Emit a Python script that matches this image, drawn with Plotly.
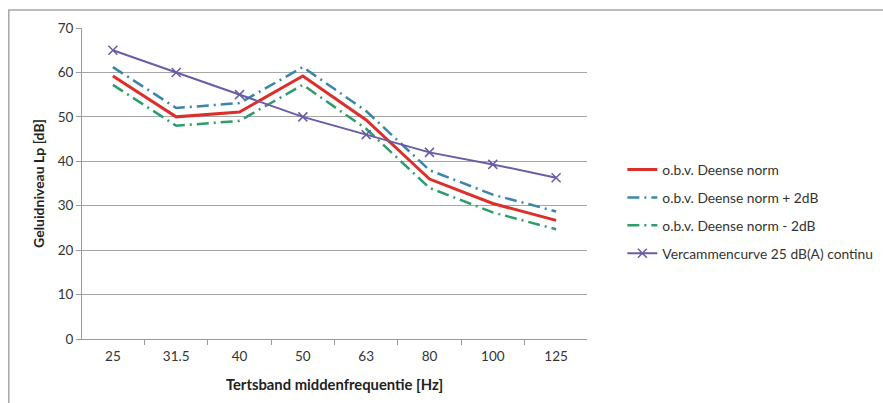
import plotly.graph_objects as go

categories = ["25", "31.5", "40", "50", "63", "80", "100", "125"]
deense = [59.2, 50.0, 51.1, 59.2, 49.3, 36.0, 30.5, 26.7]
deense_plus = [61.2, 52.0, 53.1, 61.2, 51.3, 38.0, 32.5, 28.7]
deense_min = [57.2, 48.0, 49.1, 57.2, 47.3, 34.0, 28.5, 24.7]
vercammen = [65.0, 60.0, 55.0, 50.0, 46.0, 42.0, 39.3, 36.3]

fig = go.Figure()
fig.add_trace(go.Scatter(x=categories, y=deense, mode="lines", name="o.b.v. Deense norm", legendgroup="a",
                         line=dict(color="#DC2F2A", width=3)))
fig.add_trace(go.Scatter(x=categories, y=deense_plus, mode="lines", name="o.b.v. Deense norm + 2dB", legendgroup="b",
                         line=dict(color="#3A86A8", width=2.5, dash="12px,5px,2px,5px")))
fig.add_trace(go.Scatter(x=categories, y=deense_min, mode="lines", name="o.b.v. Deense norm - 2dB", legendgroup="c",
                         line=dict(color="#2E9C6C", width=2.5, dash="12px,5px,2px,5px")))
fig.add_trace(go.Scatter(x=categories, y=vercammen, mode="lines+markers", name="Vercammencurve 25 dB(A) continu",
                         legendgroup="d",
                         line=dict(color="#6A5CA6", width=2),
                         marker=dict(symbol="x-thin-open", size=9, line=dict(color="#6A5CA6", width=1.5))))

fig.update_layout(
    width=883, height=403,
    margin=dict(l=82, r=296, t=28, b=64, autoexpand=False),
    paper_bgcolor="white", plot_bgcolor="white",
    font=dict(family="Lato, Open Sans, sans-serif", size=12, color="#333333"),
    showlegend=True,
    legend=dict(x=1.07, y=0.41, xanchor="left", yanchor="middle",
                font=dict(size=13.8, color="#333333"), tracegroupgap=7,
                itemwidth=30, bgcolor="rgba(0,0,0,0)"),
    shapes=[dict(type="rect", xref="paper", yref="paper",
                 x0=-0.145, x1=1.65, y0=-0.3, y1=1.058,
                 line=dict(color="#A6A6A6", width=1.5), fillcolor="rgba(0,0,0,0)", layer="below")],
)
fig.update_xaxes(type="category", showgrid=False, showline=True, linecolor="#9A9A9A", linewidth=1,
                 ticks="outside", tickson="boundaries", ticklen=5, tickcolor="#9A9A9A", automargin=False,
                 ticklabelstandoff=5,
                 tickfont=dict(size=13.5, color="#333333"),
                 title=dict(text="<b>Tertsband middenfrequentie [Hz]</b>", font=dict(size=14.8, color="#222222"), standoff=16))
fig.update_yaxes(range=[0, 70], dtick=10, showgrid=True, gridcolor="#A6A6A6", gridwidth=1, automargin=False,
                 showline=True, linecolor="#9A9A9A", linewidth=1, ticks="outside", ticklen=5, tickcolor="#9A9A9A",
                 tickfont=dict(size=13.5, color="#333333"), zeroline=False,
                 title=dict(text="<b>Geluidniveau Lp [dB]</b>", font=dict(size=14, color="#222222"), standoff=9))

fig.write_html("out.html", config={"displayModeBar": False})

with open("out.html", "r", encoding="utf-8") as f:
    html = f.read()
html = html.replace("<body>", '<body style="margin:0;overflow:hidden">', 1)
with open("out.html", "w", encoding="utf-8") as f:
    f.write(html)
